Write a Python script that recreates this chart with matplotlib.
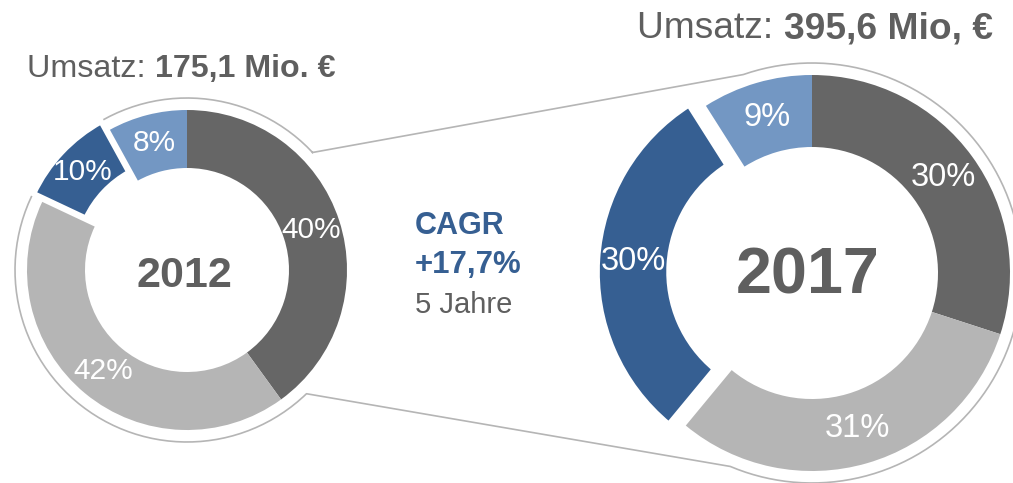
import matplotlib.pyplot as plt
import numpy as np

plt.rcParams['font.family'] = ['Liberation Sans', 'DejaVu Sans']

# Umsatzanteile je Segment, im Uhrzeigersinn ab 12 Uhr
shares_2012 = [40, 42, 10, 8]
shares_2017 = [30, 31, 30, 9]
seg_colors = ['#666666', '#b5b5b5', '#365f92', '#7397c3']
years = ['2012', '2017']
revenue = ['175,1 Mio. €', '395,6 Mio, €']
cagr = '+17,7%'
period = '5 Jahre'

W, H = 1013, 483
gray_txt = '#5f5f5f'
blue_txt = '#365f92'
line_col = '#b5b5b5'

fig = plt.figure(figsize=(W / 100, H / 100), dpi=100)
ax = fig.add_axes([0, 0, 1, 1])

# thin outline: two circles joined by two lines
c1, r1 = (187, 213), 172
c2, r2 = (812, 210), 210
a1 = np.radians(np.linspace(43.1, 314.0, 200))
a2 = np.radians(np.linspace(247.1, 469.1, 200))
xs = np.concatenate([c1[0] + r1 * np.cos(a1), c2[0] + r2 * np.cos(a2)])
ys = np.concatenate([c1[1] + r1 * np.sin(a1), c2[1] + r2 * np.sin(a2)])
xs = np.append(xs, xs[0])
ys = np.append(ys, ys[0])
ax.plot(xs, ys, color=line_col, lw=1.2, zorder=0)


def donut(vals, center, radius, width, expl, fsize):
    wedges, texts, pcts = ax.pie(
        vals, colors=seg_colors, startangle=90, counterclock=False,
        center=center, radius=radius, explode=expl,
        wedgeprops=dict(width=width, linewidth=0),
        autopct='%.0f%%', pctdistance=1 - width / radius / 2,
        textprops=dict(color='white', fontsize=fsize))
    for w, e in zip(wedges, expl):
        if e > 0:
            w.set_edgecolor('white')
            w.set_linewidth(4)
            w.set_zorder(2)
    return wedges


donut(shares_2012, c1, 160, 58, [0, 0, 12, 0], 21.5)
donut(shares_2017, c2, 198, 72, [0, 0, 17, 0], 23.5)

ax.text(184, 207, years[0], fontsize=31, fontweight='bold', color=gray_txt,
        ha='center', va='center')
ax.text(808, 207, years[1], fontsize=46.5, fontweight='bold', color=gray_txt,
        ha='center', va='center')

# CAGR block
ax.text(415, H - 234, 'CAGR', fontsize=22, fontweight='bold', color=blue_txt,
        ha='left', va='baseline')
ax.text(415, H - 273, cagr, fontsize=22.5, fontweight='bold', color=blue_txt,
        ha='left', va='baseline')
ax.text(415, H - 313, period, fontsize=21, color=gray_txt,
        ha='left', va='baseline')

ax.set_xlim(0, W)
ax.set_ylim(0, H)
ax.set_aspect('auto')
ax.axis('off')

# headline: regular + bold part
fig.canvas.draw()
rend = fig.canvas.get_renderer()
for x0, yb, fs, val in [(27, H - 77, 23.2, revenue[0]), (637, H - 38, 26.7, revenue[1])]:
    t = ax.text(x0, yb, 'Umsatz: ', fontsize=fs, color=gray_txt,
                ha='left', va='baseline')
    bb = t.get_window_extent(rend)
    xe = ax.transData.inverted().transform((bb.x1, bb.y0))[0]
    ax.text(xe, yb, val, fontsize=fs, fontweight='bold', color=gray_txt,
            ha='left', va='baseline')

fig.savefig('out.png', dpi=100)
